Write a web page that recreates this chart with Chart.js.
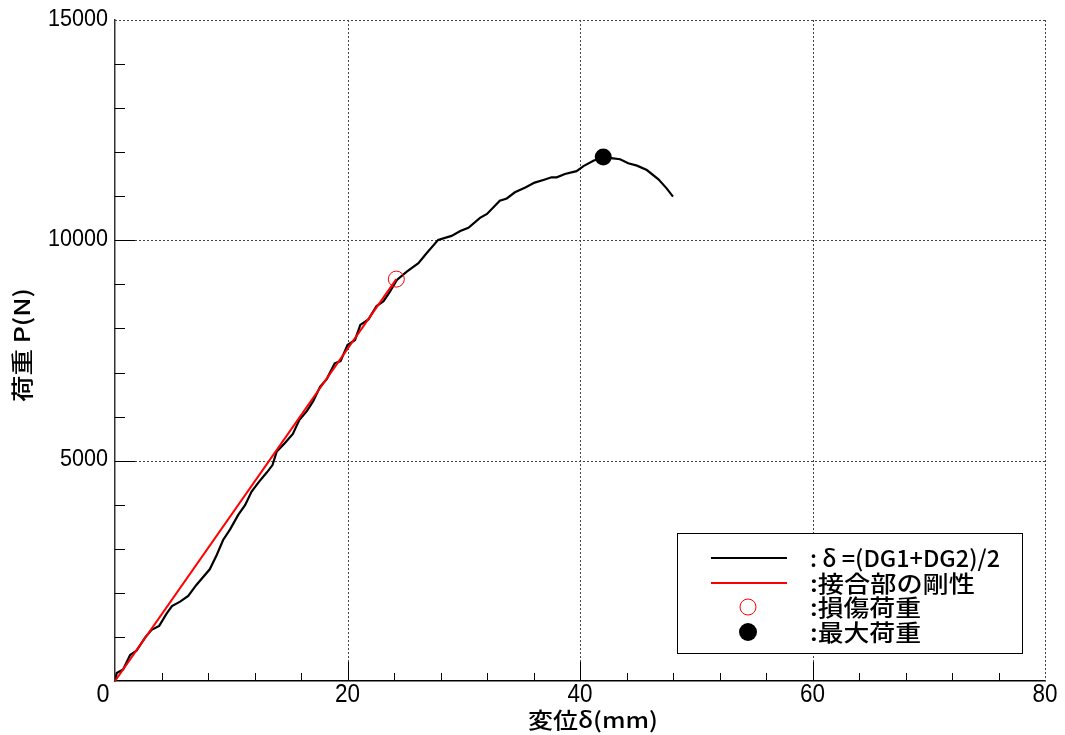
<!DOCTYPE html>
<html>
<head>
<meta charset="utf-8">
<script src="https://cdn.jsdelivr.net/npm/chart.js@4"></script>
<style>
body{margin:0;background:#fff;}
#box{width:1065px;height:735px;}
</style>
</head>
<body>
<div id="box"><canvas id="canvas" width="1065" height="735"></canvas></div>
<script>
const dispX=[0,0.15,0.7,1.3,1.85,2.6,3.15,3.8,4.45,4.9,5.6,6.3,7.0,8.15,8.75,9.3,9.9,10.6,11.2,11.75,12.4,13.05,13.55,13.9,14.6,15.3,15.85,16.5,17.05,17.65,18.2,18.9,19.4,20.0,20.65,21.1,21.8,22.5,23.1,23.65,24.25,25.1,26.1,26.8,27.8,28.95,29.7,30.4,31.4,32.0,33.1,33.7,34.4,35.3,36.1,36.85,37.55,38.0,38.7,39.7,40.3,41.15,42.0,42.85,43.45,44.15,44.9,45.75,46.75,47.45,48.0];
const loadY=[0,180,260,590,690,990,1160,1250,1535,1700,1800,1930,2180,2535,2860,3200,3440,3770,3995,4300,4525,4730,4900,5200,5395,5605,5920,6125,6350,6680,6845,7210,7260,7625,7740,8080,8205,8510,8620,8835,9100,9290,9480,9705,10010,10100,10210,10285,10510,10600,10900,10950,11090,11200,11310,11370,11430,11430,11505,11570,11685,11805,11890,11860,11840,11750,11695,11595,11385,11180,10990];
const stiffX=[0,24.2];
const stiffY=[0,9120];
const damageX=[24.2];
const damageY=[9120];
const maxX=[42.0];
const maxY=[11890];
const xTicks=[0,20,40,60,80];
const yTicks=[0,5000,10000,15000];
const legendLabels=[": δ =(DG1+DG2)/2",":接合部の剛性",":損傷荷重",":最大荷重"];
const xTitle="変位δ(mm)";
const yTitle="荷重 P(N)";

function pts(xs,ys){
    return xs.map((x,i)=>({x:x,y:ys[i]}));
}
function fitText(ctx,text,x,y,font,targetW,align){
    ctx.save();
    ctx.font=font;
    const w=ctx.measureText(text).width;
    const sx=targetW?targetW/w:1;
    ctx.translate(x,y);
    ctx.scale(sx,1);
    ctx.textAlign=align||"left";
    ctx.textBaseline="middle";
    ctx.fillText(text,0,0);
    ctx.restore();
}

const axisPlugin={
    id:"axisPlugin",
    beforeDatasetsDraw(chart){
        const ctx=chart.ctx;
        const xs=chart.scales.x;
        const ys=chart.scales.y;
        const a=chart.chartArea;
        ctx.save();
        ctx.strokeStyle="#444";
        ctx.lineWidth=1;
        ctx.setLineDash([2,2]);
        xTicks.slice(1).forEach(v=>{
            const px=Math.round(xs.getPixelForValue(v))+0.5;
            ctx.beginPath();
            ctx.moveTo(px,a.top);
            ctx.lineTo(px,a.bottom);
            ctx.stroke();
        });
        yTicks.slice(1).forEach(v=>{
            const py=Math.round(ys.getPixelForValue(v))+0.5;
            ctx.beginPath();
            ctx.moveTo(a.left,py);
            ctx.lineTo(a.right,py);
            ctx.stroke();
        });
        ctx.setLineDash([]);
        ctx.strokeStyle="#000";
        for(let v=4;v<80;v+=4){
            const px=Math.round(xs.getPixelForValue(v))+0.5;
            const len=(v%20===0)?19:8;
            ctx.beginPath();
            ctx.moveTo(px,a.bottom);
            ctx.lineTo(px,a.bottom-len);
            ctx.stroke();
        }
        for(let v=1000;v<15000;v+=1000){
            const py=Math.round(ys.getPixelForValue(v))+0.5;
            const len=(v%5000===0)?20:10;
            ctx.beginPath();
            ctx.moveTo(a.left,py);
            ctx.lineTo(a.left+len,py);
            ctx.stroke();
        }
        ctx.restore();
    },
    afterDraw(chart){
        const ctx=chart.ctx;
        const xs=chart.scales.x;
        const ys=chart.scales.y;
        ctx.save();
        ctx.fillStyle="#000";
        xTicks.forEach(v=>{
            const txt=String(v);
            if(v===0){
                fitText(ctx,txt,103,695,"26px 'Liberation Sans'",13,"center");
                return;
            }
            fitText(ctx,txt,xs.getPixelForValue(v),695,"26px 'Liberation Sans'",12.5*txt.length,"center");
        });
        yTicks.slice(1).forEach(v=>{
            const txt=String(v);
            fitText(ctx,txt,108,ys.getPixelForValue(v)-1,"24px 'Liberation Sans'",12*txt.length,"right");
        });
        fitText(ctx,xTitle,593,720,"500 22px 'Noto Sans CJK JP'",130,"center");
        ctx.save();
        ctx.translate(22,345);
        ctx.rotate(-Math.PI/2);
        fitText(ctx,yTitle,0,0,"500 22px 'Noto Sans CJK JP'",114,"center");
        ctx.restore();

        ctx.fillStyle="#fff";
        ctx.fillRect(677,533,346,121);
        ctx.strokeStyle="#000";
        ctx.lineWidth=1;
        ctx.strokeRect(677.5,533.5,345,120);
        const rows=[558,583,607,632];
        const widths=[190,165,111,111];
        ctx.lineWidth=2;
        ctx.strokeStyle="#000";
        ctx.beginPath();ctx.moveTo(711,rows[0]);ctx.lineTo(787,rows[0]);ctx.stroke();
        ctx.strokeStyle="#f00";
        ctx.beginPath();ctx.moveTo(711,rows[1]);ctx.lineTo(787,rows[1]);ctx.stroke();
        ctx.lineWidth=1;
        ctx.beginPath();ctx.arc(748,rows[2],8,0,Math.PI*2);ctx.stroke();
        ctx.fillStyle="#000";
        ctx.beginPath();ctx.arc(748,rows[3],9,0,Math.PI*2);ctx.fill();
        legendLabels.forEach((t,i)=>{
            fitText(ctx,t,810,rows[i],"500 23px 'Noto Sans CJK JP'",widths[i],"left");
        });
        ctx.restore();
    }
};

new Chart(document.getElementById("canvas"),{
    type:"scatter",
    data:{
        datasets:[{
            data:pts(dispX,loadY),
            showLine:true,
            borderColor:"#000",
            borderWidth:2.2,
            pointRadius:0,
            tension:0,
            order:3
        },{
            data:pts(stiffX,stiffY),
            showLine:true,
            borderColor:"#f00",
            borderWidth:2,
            pointRadius:0,
            order:2
        },{
            data:pts(damageX,damageY),
            pointRadius:8,
            borderColor:"#f00",
            borderWidth:1,
            backgroundColor:"rgba(0,0,0,0)",
            order:1
        },{
            data:pts(maxX,maxY),
            pointRadius:8.5,
            borderWidth:0,
            backgroundColor:"#000",
            order:0
        }]
    },
    options:{
        responsive:false,
        animation:false,
        devicePixelRatio:1,
        layout:{padding:{top:20,right:20,left:0,bottom:0}},
        plugins:{
            legend:{display:false},
            tooltip:{enabled:false}
        },
        scales:{
            x:{
                type:"linear",
                min:0,
                max:80,
                ticks:{display:false,stepSize:20},
                grid:{display:false},
                border:{display:true,color:"#000",width:1.5},
                afterFit:function(scale){scale.height=54;}
            },
            y:{
                type:"linear",
                min:0,
                max:15000,
                ticks:{display:false,stepSize:5000},
                grid:{display:false},
                border:{display:true,color:"#333",width:1.5},
                afterFit:function(scale){scale.width=115;}
            }
        }
    },
    plugins:[axisPlugin]
});
</script>
</body>
</html>
